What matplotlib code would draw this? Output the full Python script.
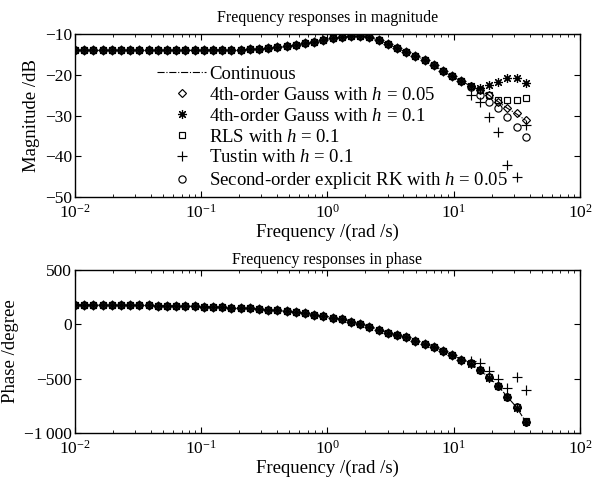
import numpy as np
import matplotlib
matplotlib.use("Agg")
import matplotlib.pyplot as plt
from matplotlib.ticker import LogLocator, LogFormatterMathtext, NullFormatter

plt.rcParams['font.family'] = ['Liberation Serif', 'DejaVu Serif']
plt.rcParams['mathtext.fontset'] = 'custom'
plt.rcParams['mathtext.rm'] = 'Liberation Serif'
plt.rcParams['mathtext.it'] = 'Liberation Serif:italic'
plt.rcParams['font.size'] = 13.5

# frequency grid (rad/s)
freq = [0.0100, 0.01183, 0.01398, 0.01654, 0.01956, 0.02313, 0.02736, 0.03236,
        0.03828, 0.04526, 0.05354, 0.06332, 0.07488, 0.08856, 0.1047, 0.1239,
        0.1465, 0.1732, 0.2049, 0.2423, 0.2866, 0.3388, 0.4008, 0.4740,
        0.5605, 0.6630, 0.7840, 0.9272, 1.0965, 1.297, 1.534, 1.814,
        2.145, 2.537, 3.000, 3.548, 4.197, 4.963, 5.870, 6.941,
        8.210, 9.708, 11.48, 13.58, 16.06, 18.99, 22.46, 26.57,
        31.42, 37.15]

# magnitude (dB) shared by all methods up to ~12 rad/s
mag_common = [-14.0, -14.0, -14.0, -14.0, -14.0, -14.0, -14.0, -14.0,
              -14.0, -14.0, -14.0, -14.0, -14.0, -14.0, -14.0, -13.9,
              -13.9, -13.9, -13.9, -13.8, -13.7, -13.5, -13.3, -13.0,
              -12.7, -12.3, -11.9, -11.5, -11.1, -10.8, -10.6, -10.5,
              -10.8, -11.5, -12.4, -13.5, -14.4, -15.3, -16.3, -17.6,
              -19.1, -20.4, -21.6]
# tails from 13.6 rad/s on
mag_cont = [-22.7, -23.8, -25.0, -26.6, -28.2, -29.6, -31.2]
mag_gauss05 = [-22.7, -23.8, -25.0, -26.6, -28.2, -29.5, -31.1]
mag_gauss1 = [-22.8, -23.2, -22.5, -21.7, -20.9, -20.9, -22.1]
mag_rls = [-22.7, -23.8, -25.0, -26.2, -26.2, -26.2, -25.8]
mag_tustin = [-25.0, -26.6, -30.3, -34.0, -42.1, -45.0, -32.3]
mag_rk = [-22.9, -25.0, -26.6, -28.2, -30.3, -32.7, -35.2]

# phase (degree) shared by all methods up to ~11 rad/s
ph_common = [180, 180, 179, 179, 178, 177, 176, 175,
             174, 173, 171, 170, 168, 166, 164, 161,
             158, 155, 151, 146, 141, 135, 128, 120,
             111, 101, 90, 77, 63, 47, 25, 3,
             -22, -50, -77, -98, -121, -150, -180, -208,
             -242, -282, -325]
ph_cont = [-360, -420, -487, -567, -666, -763, -896]
ph_gauss05 = [-360, -420, -487, -567, -666, -763, -896]
ph_gauss1 = [-362, -422, -490, -570, -668, -766, -900]
ph_rls = [-360, -420, -487, -567, -666, -763, -893]
ph_tustin = [-334, -353, -426, -506, -583, -487, -604]
ph_rk = [-360, -421, -488, -568, -667, -765, -898]

labels = ['Continuous',
          r'4th-order Gauss with $h$ = 0.05',
          r'4th-order Gauss with $h$ = 0.1',
          r'RLS with $h$ = 0.1',
          r'Tustin with $h$ = 0.1',
          r'Second-order explicit RK with $h$ = 0.05']

fig = plt.figure(figsize=(5.97, 4.79), dpi=100)
ax1 = fig.add_axes([0.1256, 0.5887, 0.8459, 0.3403])
ax2 = fig.add_axes([0.1256, 0.0960, 0.8459, 0.3403])

asterisk = (8, 2, 0)
styles = [dict(marker='D', ms=4.2),
          dict(marker=asterisk, ms=6.5),
          dict(marker='s', ms=4.8),
          dict(marker='+', ms=6.5),
          dict(marker='o', ms=5.2)]


def draw(ax, common, tails):
    w = np.array(freq)
    series = [list(common) + list(t) for t in tails]
    ax.plot(w, series[0], color='k', ls='-.', lw=0.8, label=labels[0])
    for s, st, lab in zip(series[1:], styles, labels[1:]):
        ax.plot(w, s, ls='none', color='k', mfc='none', mec='k', mew=0.85,
                label=lab, **st)


draw(ax1, mag_common, [mag_cont, mag_gauss05, mag_gauss1, mag_rls, mag_tustin, mag_rk])
draw(ax2, ph_common, [ph_cont, ph_gauss05, ph_gauss1, ph_rls, ph_tustin, ph_rk])

for ax in (ax1, ax2):
    ax.set_xscale('log')
    ax.set_xlim(1e-2, 1e2)
    ax.xaxis.set_major_locator(LogLocator(base=10, numticks=10))
    ax.xaxis.set_major_formatter(LogFormatterMathtext())
    ax.xaxis.set_minor_locator(LogLocator(base=10, subs=np.arange(2, 10), numticks=10))
    ax.xaxis.set_minor_formatter(NullFormatter())
    ax.tick_params(which='both', direction='in', top=True, right=True, labelsize=12.5)
    ax.tick_params(which='major', length=4, width=0.8)
    ax.tick_params(axis='x', which='major', pad=5)
    ax.tick_params(axis='y', which='major', pad=2)
    ax.tick_params(which='minor', length=2, width=0.6)
    for sp in ax.spines.values():
        sp.set_linewidth(1.0)
    ax.set_xlabel('Frequency /(rad /s)', labelpad=1)

ax1.set_ylim(-50, -10)
ax1.set_yticks([-50, -40, -30, -20, -10])
ax1.set_ylabel('Magnitude /dB', labelpad=4)
ax1.set_title('Frequency responses in magnitude', fontsize=11.5, pad=9)
ax1.legend(loc='upper left', bbox_to_anchor=(0.163, 0.805), frameon=False,
           numpoints=1, handlelength=2.6, handletextpad=0.15, labelspacing=0.2,
           borderpad=0, borderaxespad=0)

ax2.set_ylim(-1000, 500)
ax2.set_yticks([-1000, -500, 0, 500])
ax2.set_yticklabels(['\u22121\u2009000', '\u2212500', '0', '500'])
ax2.set_ylabel('Phase /degree', labelpad=4)
ax2.set_title('Frequency responses in phase', fontsize=11.5, pad=4)

fig.savefig('out.png', dpi=100)
